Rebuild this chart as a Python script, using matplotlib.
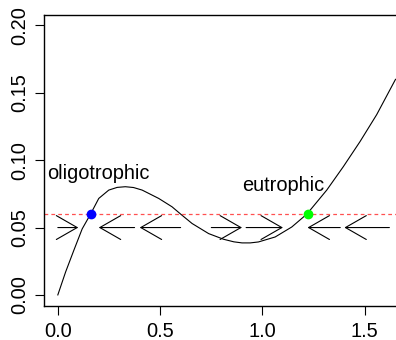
import numpy as np
import matplotlib
matplotlib.use("Agg")
import matplotlib.pyplot as plt
from matplotlib.patches import FancyArrowPatch

plt.rcParams['font.family'] = ['Liberation Sans', 'DejaVu Sans']

# curve
curve_x = [0.0, 0.038, 0.078, 0.119, 0.16, 0.2, 0.249, 0.29, 0.33, 0.37, 0.412,
           0.493, 0.558, 0.6, 0.656, 0.737, 0.81, 0.86, 0.9, 0.94, 0.98, 1.062,
           1.143, 1.217, 1.314, 1.395, 1.477, 1.558, 1.65]
curve_y = [0.0, 0.017, 0.033, 0.049, 0.06, 0.0716, 0.0778, 0.0798, 0.0803, 0.0797, 0.0778,
           0.0716, 0.0654, 0.06, 0.053, 0.0455, 0.0413, 0.0394, 0.0386, 0.0386, 0.0393, 0.043,
           0.0504, 0.06, 0.0778, 0.0952, 0.1139, 0.1338, 0.16]

loading = 0.06
arrow_y = 0.05
arrow_tail = [0.0, 0.375, 0.6, 0.75, 0.92, 1.38, 1.62]
arrow_tip = [0.1, 0.2, 0.4, 0.9, 1.1, 1.22, 1.4]

stable_x = [0.16, 1.22]
stable_col = ['#0000ff', '#00ff00']
labels = ['oligotrophic', 'eutrophic']
label_x = [0.2, 1.1]
label_y = [0.09, 0.081]

fig = plt.figure(figsize=(3.96, 3.40), dpi=100)
ax = fig.add_axes([0.1119, 0.1009, 0.921, 0.856])

ax.plot(curve_x, curve_y, color='black', lw=0.8)
ax.axhline(loading, color='#ff5050', lw=0.9, dashes=(3, 2.5))

for x0, x1 in zip(arrow_tail, arrow_tip):
    ar = FancyArrowPatch((x0, arrow_y), (x1, arrow_y),
                         arrowstyle='->,head_length=15,head_width=8.6',
                         mutation_scale=1, shrinkA=0, shrinkB=0,
                         color='black', lw=0.8)
    ax.add_patch(ar)

for x, c in zip(stable_x, stable_col):
    ax.plot(x, loading, 'o', color=c, ms=6, mec=c, zorder=5)

for t, x, y in zip(labels, label_x, label_y):
    ax.text(x, y, t, ha='center', va='center', fontsize=14.4)

ax.set_xlim(-0.066, 1.716)
ax.set_ylim(-0.008, 0.208)
ax.set_xticks([0, 0.5, 1.0, 1.5])
ax.set_xticklabels(['0.0', '0.5', '1.0', '1.5'])
ax.set_yticks([0, 0.05, 0.1, 0.15, 0.2])
ax.set_yticklabels(['0.00', '0.05', '0.10', '0.15', '0.20'], rotation=90, va='center')
ax.tick_params(length=6.5, width=0.8, labelsize=14.4)
ax.tick_params(axis='x', pad=5)
ax.tick_params(axis='y', pad=4)
for s in ax.spines.values():
    s.set_linewidth(1.0)

fig.savefig('out.png', dpi=100)
